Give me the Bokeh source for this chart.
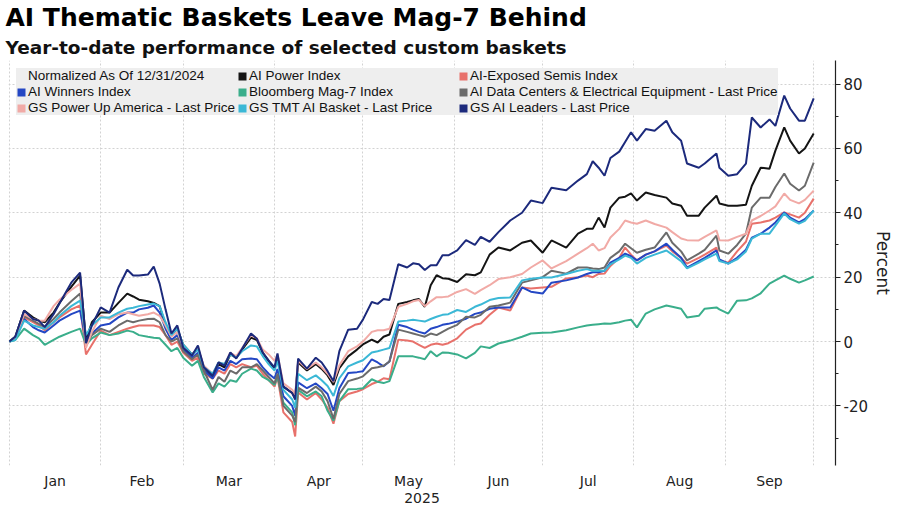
from bokeh.plotting import figure
from bokeh.models import (FixedTicker, Legend, LegendItem, Title, LinearAxis, Range1d)
from bokeh.embed import file_html
from bokeh.resources import INLINE

# ---- data (days since 2025-01-01; values = % change since 12/31/2024) ----
days = [0, 2, 5, 8, 10, 12, 15, 17, 21, 24,
        26, 28, 31, 34, 37, 40, 42, 44, 47, 49,
        51, 53, 55, 57, 59, 62, 64, 66, 69, 71,
        73, 75, 77, 79, 82, 84, 86, 88, 90, 91,
        93, 96, 97, 98, 101, 104, 106, 108, 110, 112,
        115, 118, 120, 123, 125, 127, 129, 132, 135, 137,
        139, 141, 143, 145, 147, 149, 152, 155, 158, 160,
        163, 166, 170, 174, 177, 181, 184, 189, 193, 196,
        198, 200, 202, 204, 207, 209, 211, 213, 216, 219,
        223, 225, 228, 230, 234, 236, 240, 241, 244, 247,
        250, 252, 255, 258, 260, 263, 265, 268, 270, 273]

ai_power = [0, 1.5, 9.6, 7.5, 6.5, 6, 9, 12, 17, 20.5,
            0.5, 6, 9, 9, 12, 14.9, 14, 13, 12.5, 12,
            11, 5, 2, 4, -1, -4, -2, -8, -11, -7,
            -8, -4, -5, -2.5, 1.2, 0.5, -3.5, -6, -8.5, -5,
            -14, -16, -17.5, -6.5, -9, -7, -8.5, -10.5, -13.5, -8.3,
            -4.6, -2.5, -0.9, 0.6, -0.3, 1.5, 2.2, 11.7, 12.3, 12.8,
            13.2, 10.8, 17.5, 20.6, 19.7, 19.5, 18.5, 20.9, 20.6, 21.5,
            27, 29.2, 28.3, 30.7, 31.4, 27.6, 31.4, 29.2, 33.5, 35,
            35, 38.5, 35.4, 41.6, 44.7, 45, 46, 43.8, 46.3, 45.5,
            44.7, 42.9, 42.2, 39.1, 39.1, 41.6, 45.3, 42.9, 42.2, 42.2,
            42.5, 48.4, 54, 53.7, 59.3, 66.5, 62.4, 58.4, 60, 64.6]

ai_semis = [0, 1, 7.5, 6, 5, 3.5, 6, 7.5, 10, 11.2,
            -4, -1, 3.4, 2, 3, 4, 4.5, 5, 5, 5,
            4.5, 2, -1, 0, -3.5, -6, -5, -10, -11.5, -9,
            -10, -7, -8, -7, -8, -7.5, -10, -12, -14, -11,
            -22, -25, -29.5, -15.8, -18, -16, -18, -20.6, -25.5, -18.5,
            -16.3, -15.5, -14.8, -13.2, -12.5, -11.4, -11.7, 0.6, 0.3, 0,
            -1, -2, -1, -0.6, -1, -0.5, 1, 3.7, 5.2, 5.6,
            8.3, 10.6, 9.6, 16.8, 16.5, 16.8, 17, 19.6, 20, 20.5,
            20, 21, 21.1, 23.5, 26, 29.2, 27, 25.2, 27, 28,
            29.8, 28, 26, 24.2, 26, 27, 29.2, 25.2, 24.5, 28,
            31, 36.6, 37, 37.6, 38.5, 40.1, 39.5, 38.5, 40, 44.4]

ai_winners = [0, 1, 7, 4.5, 3.5, 2.8, 5, 6.5, 8.5, 9.6,
              0, 2.5, 5, 5.5, 7.5, 9, 9, 10, 10.5, 11.2,
              9, 4, 0.5, 2, -2.5, -5, -3.5, -9, -11.5, -8,
              -9, -6, -7, -5.5, -5.3, -5.5, -8, -10, -11.5, -8.5,
              -17, -20, -23, -12.7, -14.5, -13, -14.5, -16.3, -21.5, -14.5,
              -9.8, -9.5, -9.2, -5.5, -6.5, -7.7, -6.2, 5.2, 4.5, 3.7,
              3, 2.5, 4, 4.5, 5.2, 5.5, 6.2, 7.1, 8.6, 9,
              10.2, 10.6, 10.6, 16.8, 15.5, 14.9, 18.3, 19, 19.9, 21,
              21.5, 21.5, 22, 24.5, 26, 27.3, 26.5, 25.2, 27, 28,
              30.4, 28.5, 26, 23, 25, 26, 28.3, 25.5, 24.2, 26,
              28.5, 32.3, 33.5, 35.4, 37, 40.1, 38.5, 37, 38, 40.7]

mag7 = [0, 0.5, 4, 2, 1, -1, 0.5, 1.5, 3, 4,
        -1, 1, 2.8, 2, 2.5, 3.4, 3, 2, 1.5, 1.2,
        1, -1, -3, -2, -5, -7.5, -6, -11, -15.8, -13,
        -14, -12, -12.5, -10, -8.4, -9, -11, -12, -13.5, -11,
        -19, -22, -26, -15, -17, -15.5, -17, -21.5, -24.6, -18.5,
        -14.8, -14.7, -14.5, -11.7, -12.5, -12.9, -12.3, -4.6, -4.6, -4.6,
        -5, -5.5, -3, -4.6, -3.4, -3.5, -4, -5.2, -3.5, -1.5,
        -2, -0.6, 0.3, 1.5, 2.5, 2.7, 2.8, 3.5, 4.4, 5,
        5.2, 5.4, 5.6, 5.5, 6, 6.5, 6.8, 4.4, 8.7, 10,
        11.2, 10.8, 10.2, 7.5, 8, 10.2, 10.6, 10, 8.7, 12.7,
        12.8, 13.4, 15, 18, 19, 20.5, 19.5, 18.3, 19, 20.2]

ai_data_centers = [0, 1, 8, 6.5, 5.5, 4.5, 7, 9, 12.5, 14.9,
                   -1, 2, 4, 3, 5, 6.5, 6, 6.5, 7, 7.1,
                   6, 2, 0, 1, -3, -5.5, -4, -9, -15, -11,
                   -12.5, -9, -10, -8, -8, -7, -9, -11, -13, -10,
                   -20, -23, -25, -14.3, -16, -14, -15.5, -18.5, -24, -16.3,
                   -12.3, -11.5, -10.8, -8.3, -8, -7.5, -6.2, 3.7, 3, 2.5,
                   2, 1.5, 2.5, 2, 3, 4, 5.2, 7.7, 7.5, 8.3,
                   10.8, 11.2, 12.1, 18.3, 19, 20, 22, 21.1, 23, 23,
                   22.7, 22.5, 23, 26, 28, 30.4, 29, 27.6, 28.5, 29.2,
                   33.9, 30.7, 28, 25.2, 27.3, 28.5, 32.9, 28.3, 27.3, 30,
                   33.5, 41.6, 44.7, 44.7, 48, 52.2, 49, 46.9, 48.4, 55.6]

gs_power_up = [0, 1, 8.5, 7, 6.5, 6.5, 11, 13, 16, 18,
               -2, 3, 8, 7, 8.5, 9, 8.5, 8, 8.5, 9,
               8, 5, 1.5, 3, -1.5, -4, -2, -7.5, -10, -6.5,
               -7, -3.5, -4.5, -2, 2, 1, -2.5, -4, -6, -4,
               -13, -15, -16.5, -6, -8.5, -6.5, -8, -10, -12.5, -7.4,
               -3, -1.5, 0, 3, 3.5, 3.5, 4, 10.8, 11.7, 12.5,
               12.9, 11, 12.5, 13.8, 13.8, 14, 15.4, 16.3, 14.8, 16,
               17.5, 19.4, 20, 21, 23, 25.2, 22.7, 25, 27.3, 29,
               30.4, 28.3, 29, 32.3, 35, 37.6, 37, 36.6, 37.6, 36.5,
               35.4, 34, 32, 31.5, 31.4, 32.5, 34.5, 31.5, 31.4, 32.5,
               33.5, 37.6, 39, 40.7, 42, 46, 44, 42.9, 44, 46.9]

gs_tmt_ai = [0, 0.5, 6.5, 5, 4.5, 4, 6, 8, 11, 12.7,
             2, 5, 7.5, 7.5, 9, 10.2, 10.5, 11, 11.5, 11.8,
             11, 6, 2, 4, -1, -4, -2.5, -8, -10, -6.5,
             -7, -4, -5, -3, -1.2, -1.5, -4.5, -7, -9, -6,
             -15, -18, -20.5, -10, -12, -10.5, -12, -13.8, -16.9, -11.4,
             -7.7, -6.5, -5.8, -3.4, -3, -2.5, -2, 6.2, 6.5, 6.8,
             6.5, 6.2, 7, 7.7, 8.3, 8.5, 9.8, 9.2, 10.8, 11.5,
             12.9, 13.5, 13.7, 19, 19.5, 19.9, 19.9, 21, 22, 22.5,
             22, 22, 22, 24, 25.5, 26.7, 26, 24.2, 26, 27,
             28.3, 27, 25, 22.7, 24.5, 25.5, 27.3, 25, 24.2, 25.5,
             28, 32, 33.5, 33.5, 36, 39.8, 38, 36.6, 37.5, 40.7]

gs_ai_leaders = [0, 1.5, 9.6, 7, 6.5, 4.5, 8.5, 11.8, 18.3, 21.4,
                 -0.5, 5, 10.6, 9, 16.8, 22.3, 20.5, 20.5, 20.8, 23.3,
                 18, 10, 2.5, 5, -1.9, -4.3, -1.2, -8, -10.6, -6.5,
                 -7.5, -3.4, -5.3, -2.2, 2.5, 0.9, -3.4, -5.9, -8, -3.7,
                 -14, -16, -18, -5.3, -8.4, -5, -6.5, -9.2, -12.3, -3,
                 3.7, 4, 6.8, 12.3, 11.7, 13.2, 12.9, 24, 23, 24.3,
                 24, 22.2, 23.7, 23.7, 26.8, 26.8, 28.3, 31.5, 30, 32.5,
                 31, 34, 37.6, 40, 43.8, 43, 47.8, 47, 50, 52,
                 56, 54, 51.5, 57, 59, 62, 65, 62.4, 66, 65.5,
                 68.6, 65, 62.4, 55.3, 54, 55.3, 58.4, 54, 51.5, 52,
                 55.3, 69.6, 66.5, 69, 67, 76.4, 72.4, 68.6, 68.6, 75.5]

series_names = ["AI Power Index", "AI-Exposed Semis Index", "AI Winners Index",
                "Bloomberg Mag-7 Index", "AI Data Centers & Electrical Equipment - Last Price",
                "GS Power Up America - Last Price", "GS TMT AI Basket - Last Price",
                "GS AI Leaders - Last Price"]
series_values = [ai_power, ai_semis, ai_winners, mag7, ai_data_centers,
                 gs_power_up, gs_tmt_ai, gs_ai_leaders]
series_colors = ["#141414", "#e8716b", "#2447c4", "#3aae8b", "#6b6b6b",
                 "#f1aaa6", "#3bb8d6", "#1c2a7c"]

month_labels = ["Jan", "Feb", "Mar", "Apr", "May", "Jun", "Jul", "Aug", "Sep"]
month_starts = [0, 31, 59, 90, 120, 151, 181, 212, 243, 273]
y_ticks = [-20, 0, 20, 40, 60, 80]
y_minor = [-30, -10, 10, 30, 50, 70]
year_label = "2025"
note_label = "Normalized As Of 12/31/2024"

x_lo, x_hi = -0.3, 280.4
y_lo, y_hi = -38.5, 87.3
nan = float("nan")

p = figure(frame_width=827, frame_height=405, output_backend="svg",
           toolbar_location=None, title=None,
           x_range=Range1d(x_lo, x_hi), y_range=Range1d(y_lo, y_hi),
           y_axis_location="right",
           min_border_left=8, min_border_top=0, min_border_bottom=0,
           min_border_right=0)
p.outline_line_color = None
p.background_fill_color = "white"
p.border_fill_color = "white"

# titles (subtitle first so it sits nearer the plot)
sub = Title(text="Year-to-date performance of selected custom baskets",
            text_font="DejaVu Sans", text_font_style="bold",
            text_font_size="18.5px", text_color="#111111", align="left",
            standoff=5.5, offset=-3)
p.add_layout(sub, "above")
main = Title(text="AI Thematic Baskets Leave Mag-7 Behind",
             text_font="DejaVu Sans", text_font_style="bold",
             text_font_size="25px", text_color="#000000", align="left",
             standoff=0, offset=-3)
p.add_layout(main, "above")

# grids
p.xgrid.ticker = FixedTicker(ticks=month_starts)
p.ygrid.ticker = FixedTicker(ticks=y_ticks)
for g in (p.xgrid, p.ygrid):
    g.grid_line_color = "#d2d2d2"
    g.grid_line_dash = "2 2"
    g.grid_line_width = 1

# x axis: month labels at month centers
mids = [(a + b) / 2 for a, b in zip(month_starts[:-1], month_starts[1:])]
xa = p.xaxis[0]
xa.ticker = FixedTicker(ticks=mids)
xa.major_label_overrides = {m: lab for m, lab in zip(mids, month_labels)}
xa.axis_line_color = None
xa.major_tick_line_color = None
xa.minor_tick_line_color = None
xa.major_tick_out = 0
xa.major_tick_in = 0
xa.minor_tick_out = 0
xa.major_label_standoff = 7
xa.major_label_text_font = "DejaVu Sans"
xa.major_label_text_font_size = "14px"
xa.major_label_text_color = "#222222"

year_mid = (x_lo + x_hi) / 2
xa2 = LinearAxis(ticker=FixedTicker(ticks=[year_mid]),
                 major_label_overrides={year_mid: year_label})
xa2.axis_line_color = None
xa2.major_tick_line_color = None
xa2.minor_tick_line_color = None
xa2.major_tick_out = 0
xa2.major_tick_in = 0
xa2.minor_tick_out = 0
xa2.major_label_standoff = 1
xa2.major_label_text_font = "DejaVu Sans"
xa2.major_label_text_font_size = "14px"
xa2.major_label_text_color = "#222222"
p.add_layout(xa2, "below")

# y axis on the right
ya = p.yaxis[0]
ya.ticker = FixedTicker(ticks=y_ticks, minor_ticks=y_minor)
ya.major_label_overrides = {t: str(t) for t in y_ticks}
ya.axis_line_color = "#222222"
ya.axis_line_width = 1.2
ya.major_tick_line_color = "#222222"
ya.major_tick_out = 5
ya.major_tick_in = 0
ya.minor_tick_line_color = "#222222"
ya.minor_tick_out = 3
ya.minor_tick_in = 0
ya.major_label_standoff = 3
ya.major_label_text_font = "DejaVu Sans"
ya.major_label_text_font_size = "15px"
ya.major_label_text_color = "#222222"
ya.axis_label = "Percent"
ya.axis_label_text_font = "DejaVu Sans"
ya.axis_label_text_font_style = "normal"
ya.axis_label_text_font_size = "17px"
ya.axis_label_text_color = "#222222"
ya.axis_label_standoff = 2

# lines
for name, vals, col in zip(series_names, series_values, series_colors):
    p.line(days, vals, line_color=col, line_width=2)

# legend swatches (square patches, no visible data)
swatch = {}
for name, col in zip(series_names, series_colors):
    swatch[name] = p.quad(left=[nan], right=[nan], top=[nan], bottom=[nan],
                          fill_color=col, line_color=None)
blank = p.quad(left=[nan], right=[nan], top=[nan], bottom=[nan],
               fill_alpha=0, line_color=None)

order = [(note_label, blank),
         (series_names[2], swatch[series_names[2]]),
         (series_names[5], swatch[series_names[5]]),
         (series_names[0], swatch[series_names[0]]),
         (series_names[3], swatch[series_names[3]]),
         (series_names[6], swatch[series_names[6]]),
         (series_names[1], swatch[series_names[1]]),
         (series_names[4], swatch[series_names[4]]),
         (series_names[7], swatch[series_names[7]])]
legend = Legend(items=[LegendItem(label=l, renderers=[r]) for l, r in order],
                location="top_left", orientation="vertical", ncols=3,
                background_fill_color="#eeeeee", background_fill_alpha=1,
                border_line_color=None, margin=8, padding=6, spacing=1,
                label_text_font="Liberation Sans", label_text_font_size="13.5px",
                label_text_color="#111111", label_height=14, label_standoff=2,
                label_width=208, glyph_width=10, glyph_height=10)
p.add_layout(legend)

open("out.html", "w").write(file_html(p, INLINE))
